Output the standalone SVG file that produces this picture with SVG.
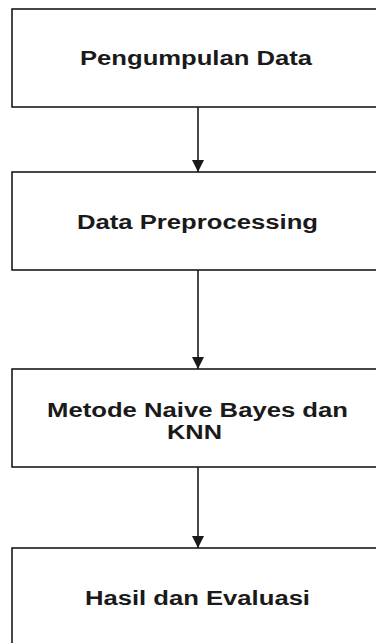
<svg xmlns="http://www.w3.org/2000/svg" width="376" height="643" viewBox="0 0 376 643">
<style>
.box{fill:#fff;stroke:#1a1a1a;stroke-width:1.6}
.lbl{font-family:"Liberation Sans",Arial,sans-serif;font-weight:bold;font-size:20px;fill:#1a1a1a}
.edge{stroke:#1a1a1a;stroke-width:1.6;fill:none}
</style>
<defs>
<marker id="ah" viewBox="0 0 12 12" refX="12" refY="6" markerWidth="12" markerHeight="12" markerUnits="userSpaceOnUse" orient="auto">
<path d="M0,0 L12,6 L0,12 Z" fill="#1a1a1a"/>
</marker>
</defs>
<rect width="376" height="643" fill="#fff"/>
<g id="connectors">
<line class="edge" x1="198" y1="107" x2="198" y2="172" marker-end="url(#ah)"/>
<line class="edge" x1="198" y1="270" x2="198" y2="369" marker-end="url(#ah)"/>
<line class="edge" x1="198" y1="467" x2="198" y2="548" marker-end="url(#ah)"/>
</g>
<g id="node1">
<rect class="box" x="12" y="9" width="372" height="98"/>
<text class="lbl" x="80" y="65" textLength="232" lengthAdjust="spacingAndGlyphs">Pengumpulan Data</text>
</g>
<g id="node2">
<rect class="box" x="12" y="172" width="372" height="98"/>
<text class="lbl" x="77" y="229" textLength="241" lengthAdjust="spacingAndGlyphs">Data Preprocessing</text>
</g>
<g id="node3">
<rect class="box" x="12" y="369" width="372" height="98"/>
<text class="lbl" x="47" y="417" textLength="301" lengthAdjust="spacingAndGlyphs">Metode Naive Bayes dan</text>
<text class="lbl" x="167" y="439" textLength="55" lengthAdjust="spacingAndGlyphs">KNN</text>
</g>
<g id="node4">
<rect class="box" x="12" y="548" width="372" height="98"/>
<text class="lbl" x="85" y="605" textLength="225" lengthAdjust="spacingAndGlyphs">Hasil dan Evaluasi</text>
</g>
</svg>
